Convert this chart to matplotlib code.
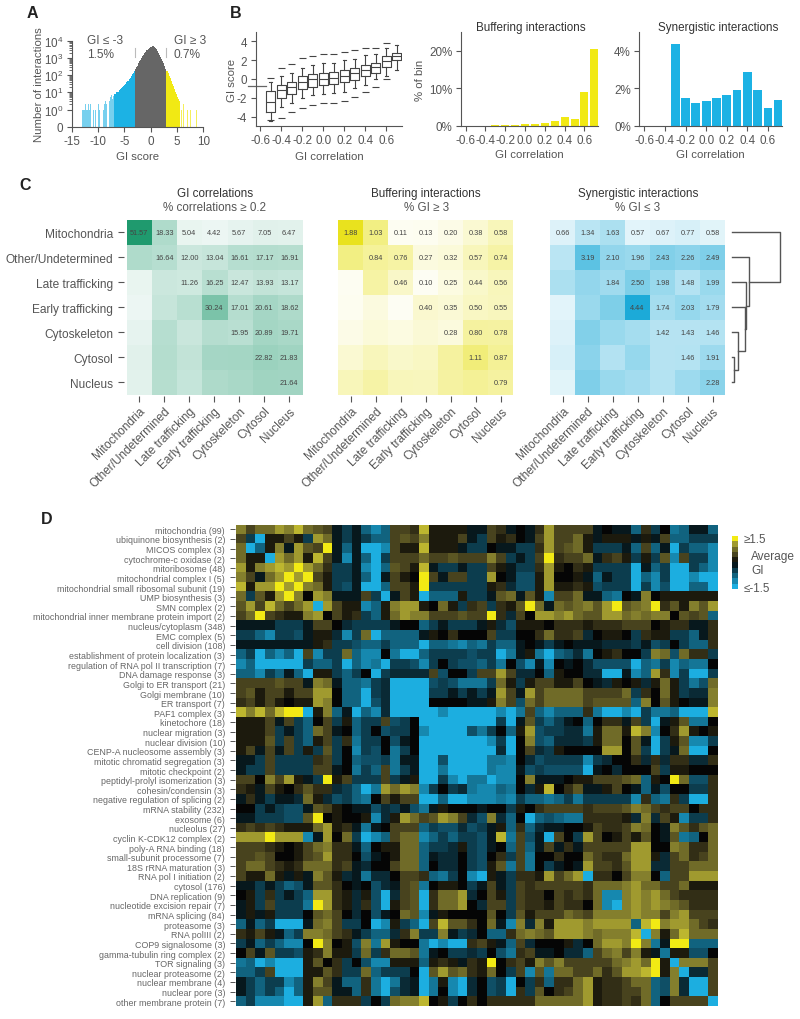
import numpy as np
import matplotlib
matplotlib.use('Agg')
import matplotlib.pyplot as plt
from matplotlib.colors import LinearSegmentedColormap

plt.rcParams['font.family'] = ['Liberation Sans', 'DejaVu Sans']
plt.rcParams['mathtext.default'] = 'regular'
plt.rcParams['axes.unicode_minus'] = False
plt.rcParams['text.color'] = '#555555'
plt.rcParams['axes.labelcolor'] = '#555555'
plt.rcParams['axes.edgecolor'] = '#555555'
plt.rcParams['xtick.color'] = '#555555'
plt.rcParams['ytick.color'] = '#555555'
plt.rcParams['axes.linewidth'] = 0.8

BLUE = '#1cb2e4'
YELLOW = '#f1e914'
GRAY = '#666666'

# panel A, histogram of GI scores
left_sparse_x = [-13.0, -12.7, -12.5, -12.3, -12.2, -12.0, -11.8, -11.6, -11.4, -10.9, -10.5, -9.9, -9.7,
                 -9.0, -8.8, -8.5, -8.3, -8.1, -7.9, -7.7, -7.5, -7.3, -7.1]
left_sparse_n = [1, 1, 1, 2, 1, 1, 2, 1, 2, 1, 1, 2, 1, 1, 2, 3, 2, 4, 3, 5, 7, 4, 6]
left_x = [-7.0, -6.8, -6.6, -6.4, -6.2, -6.0, -5.8, -5.6, -5.4, -5.2, -5.0, -4.8, -4.6, -4.4, -4.2, -4.0,
          -3.8, -3.6, -3.4, -3.2]
left_n = [8, 8, 10, 10, 11, 14, 15, 18, 20, 22, 25, 30, 38, 45, 60, 72, 90, 110, 140, 180]
mid_x = [-3.0, -2.8, -2.6, -2.4, -2.2, -2.0, -1.8, -1.6, -1.4, -1.2, -1.0, -0.8, -0.6, -0.4, -0.2, 0.0,
         0.2, 0.4, 0.6, 0.8, 1.0, 1.2, 1.4, 1.6, 1.8, 2.0, 2.2, 2.4, 2.6, 2.8]
mid_n = [215, 280, 360, 480, 620, 800, 1000, 1250, 1550, 1900, 2300, 2750, 3200, 3700, 4200, 4600,
         4900, 4900, 4500, 3900, 3200, 2600, 2050, 1550, 1200, 900, 650, 480, 340, 240]
right_x = [3.0, 3.2, 3.4, 3.6, 3.8, 4.0, 4.2, 4.4, 4.6, 4.8, 5.0, 5.2, 5.4]
right_n = [180, 130, 90, 65, 45, 32, 22, 15, 11, 8, 5, 4, 3]
right_sparse_x = [5.9, 6.3, 6.96, 7.5, 8.7]
right_sparse_n = [1, 2, 1, 1, 1]

# panel B, box plot by GI correlation bin
corr_bins = [-0.5, -0.4, -0.3, -0.2, -0.1, 0.0, 0.1, 0.2, 0.3, 0.4, 0.5, 0.6, 0.7]
box_med = [-2.4, -1.2, -0.9, -0.35, 0.0, 0.05, 0.15, 0.35, 0.65, 0.95, 1.25, 1.9, 2.4]
box_q1 = [-3.5, -2.0, -1.6, -1.05, -0.8, -0.65, -0.55, -0.35, -0.1, 0.35, 0.65, 1.3, 2.0]
box_q3 = [-1.3, -0.65, -0.3, 0.3, 0.55, 0.65, 0.75, 0.95, 1.2, 1.5, 1.75, 2.4, 2.75]
whisk_lo = [-4.5, -2.95, -2.5, -2.0, -1.7, -1.6, -1.5, -1.35, -1.0, -0.6, 0.0, 0.3, 1.0]
whisk_hi = [-0.35, 0.3, 0.65, 1.15, 1.5, 1.65, 1.75, 2.0, 2.1, 2.55, 2.65, 3.3, 3.6]
dash_lo = [-4.4, -4.1, -3.5, -3.05, -2.75, -2.6, -2.5, -2.3, -1.9, -1.4, -0.9, 0.05]
dash_hi = [0.1, 1.15, 1.55, 2.25, 2.5, 2.65, 2.7, 2.85, 3.1, 3.3, 3.3, 3.8]
stray_dash = -0.7

bar_bins = [-0.3, -0.2, -0.1, 0.0, 0.1, 0.2, 0.3, 0.4, 0.5, 0.6, 0.7]
buffering_pct = [0.1, 0.15, 0.25, 0.4, 0.35, 0.8, 1.3, 2.2, 1.8, 9.1, 20.4]
synergistic_pct = [4.35, 1.5, 1.22, 1.31, 1.46, 1.67, 1.9, 2.87, 1.91, 0.93, 1.36]
corr_ticks = [-0.6, -0.4, -0.2, 0.0, 0.2, 0.4, 0.6]
corr_labels = ['-0.6', '-0.4', '-0.2', '0.0', '0.2', '0.4', '0.6']

# panel C, upper triangles
compartments = ['Mitochondria', 'Other/Undetermined', 'Late trafficking', 'Early trafficking',
                'Cytoskeleton', 'Cytosol', 'Nucleus']
corr_upper = [[51.57, 18.33, 5.04, 4.42, 5.67, 7.05, 6.47],
              [16.64, 12.00, 13.04, 16.61, 17.17, 16.91],
              [11.26, 16.25, 12.47, 13.93, 13.17],
              [30.24, 17.01, 20.61, 18.62],
              [15.95, 20.89, 19.71],
              [22.82, 21.83],
              [21.64]]
buffer_upper = [[1.88, 1.03, 0.11, 0.13, 0.20, 0.38, 0.58],
                [0.84, 0.76, 0.27, 0.32, 0.57, 0.74],
                [0.46, 0.10, 0.25, 0.44, 0.56],
                [0.40, 0.35, 0.50, 0.55],
                [0.28, 0.80, 0.78],
                [1.11, 0.87],
                [0.79]]
synergy_upper = [[0.66, 1.34, 1.63, 0.57, 0.67, 0.77, 0.58],
                 [3.19, 2.10, 1.96, 2.43, 2.26, 2.49],
                 [1.84, 2.50, 1.98, 1.48, 1.99],
                 [4.44, 1.74, 2.03, 1.79],
                 [1.42, 1.43, 1.46],
                 [1.46, 1.91],
                 [2.28]]
# leaves joined one after the other, heights of each merge
dendro_order = [6, 4, 3, 2, 1, 0]
dendro_heights = [2.3, 6.7, 13.3, 14.0, 17.3, 48.3]

# panel D, average GI between gene groups
groups = ['mitochondria (99)', 'ubiquinone biosynthesis (2)', 'MICOS complex (3)', 'cytochrome-c oxidase (2)',
          'mitoribosome (48)', 'mitochondrial complex I (5)', 'mitochondrial small ribosomal subunit (19)',
          'UMP biosynthesis (3)', 'SMN complex (2)', 'mitochondrial inner membrane protein import (2)',
          'nucleus/cytoplasm (348)', 'EMC complex (5)', 'cell division (108)',
          'establishment of protein localization (3)', 'regulation of RNA pol II transcription (7)',
          'DNA damage response (3)', 'Golgi to ER transport (21)', 'Golgi membrane (10)', 'ER transport (7)',
          'PAF1 complex (3)', 'kinetochore (18)', 'nuclear migration (3)', 'nuclear division (10)',
          'CENP-A nucleosome assembly (3)', 'mitotic chromatid segregation (3)', 'mitotic checkpoint (2)',
          'peptidyl-prolyl isomerization (3)', 'cohesin/condensin (3)', 'negative regulation of splicing (2)',
          'mRNA stability (232)', 'exosome (6)', 'nucleolus (27)', 'cyclin K-CDK12 complex (2)',
          'poly-A RNA binding (18)', 'small-subunit processome (7)', '18S rRNA maturation (3)',
          'RNA pol I initiation (2)', 'cytosol (176)', 'DNA replication (9)', 'nucleotide excision repair (7)',
          'mRNA splicing (84)', 'proteasome (3)', 'RNA polIII (2)', 'COP9 signalosome (3)',
          'gamma-tubulin ring complex (2)', 'TOR signaling (3)', 'nuclear proteasome (2)',
          'nuclear membrane (4)', 'nuclear pore (3)', 'other membrane protein (7)']

# colour steps: 0 is GI <= -1.5, 9 is GI >= 1.5
# each row starts on the diagonal, the matrix is symmetric
gi_steps = [
    [7.5,6,7,7,8,7.5,8.5,7,6.5,6,4,3,4,2,1,2,6,6,5.5,8.5,5,5,5,5,4,4,6,5.5,4,4.5,4,5.5,8,6,6,6,6,4,4.5,4,4,2,5.5,3,4.5,1.5,2,4,4,2],
    [3,0,5,5,6,5,3,8,7,4,3,4,3,2,2,6,6.5,6,7.5,5,5,5,6,4,3,6,5,5.5,4.5,4,6,8,6,6,7,5,4,5,5,5,4,5,4,6,2,2,3,3,3],
    [2,5,7.5,4,8,6.5,6,9,4,2,4,0,0,1,6,5,5,8.5,5,5,5,4,3,3,4.5,4,4,3,3,5.5,8,6,6.5,7,5,3,3,3,4,2,6,2,4,0,3,2,2,1],
    [0,8,7,8,5,8.5,6,4,1,4,2,0,3,6,6,6,7,6,6,6.5,6,6,6,7.5,6,3,4,3,6,9,5.5,6,6,7,4,5.5,6,5,3,5,3,6.5,1,6,3,3,1],
    [8.5,8,9,8,7,5.5,3,3,4,1,0,2,6.5,6,5,8.5,4,3,3,4,3,3,6,5,4,3,3,5.5,8,5,4.5,5.5,5,3,3,3,3,0,4,2,3,0,0,3,2,1],
    [9,8,9,6,5,3,3,4,2,0,4,6,5,4.5,9,6,4,6,6,3,3,8,4.5,4,2.5,2.5,5,8,4.5,4.5,5,4,2,4,3,3,0,2,1,3,0,0,1,0,0],
    [9,7.5,7,5,3,2.5,4,0,0,2,6,6,5,9,3,3,3,3,3,3,5,5.5,3.5,2.5,2.5,5,8,5,5,5.5,5,2.5,3,3,3,0,3,1,2.5,0,0,2,2,0],
    [4.5,8,7.5,4,4,4,6,3,0,4,6,5,0,2,2,2,5,3,3,4,6.5,7,4,6.5,5,1,6,6,7,4,4,2,1.5,4.5,4,7.5,4.5,5,5,5,5,5,5],
    [0,8,6,5,5,1,2,5,7.5,8,8,5,4.5,7,5,3,5.5,6,3,5.5,5,6.5,9,7,4,7,6.5,7,7.5,6.5,8,9,6.5,7,7.5,9,5.5,6.5,5,7.5,6.5,8],
    [4.5,6,5,5.5,3,2,5,7,8,7.5,7.5,6,6,6,6.5,6,6,9,5.5,3.5,6,4.5,8,8,7.5,8,7,6.5,6.5,8,8,7,7.5,7,7.5,7.5,4.5,6.5,6,6.5,2],
    [4.5,3.5,3,3,3,3,4,4.5,4.5,2,3,4,3,3,3,4,5,3.5,2.5,5,5,5,4.5,5.5,5.5,5.5,5,5.5,5.5,5.5,6,6,6,4.5,5,5.5,5.5,4,4,5.5],
    [1,3,7,0,2,2,2,2,4,5,4.5,5.5,4.5,4.5,4.5,6,3,3,4.5,4.5,5.5,7,5.5,5.5,6,3.5,4.5,5,5,4.5,3,5.5,5,5,3,3,2,4,5.5],
    [2.5,2,2,3,2,2,2,0,2,2,1.5,1,2,1.5,3,2,2,4,4.5,4,3,4,4.5,4,4,4,3.5,3.5,3.5,3,4,2.5,3,4.5,3,2,2,5.5],
    [1,1,4.5,1.5,0,0,2,3,3,3,3,2.5,3,3,0,1.5,4,5,1.5,0,2,2.5,3.5,1.5,4.5,5,5.5,4.5,4.5,3,7.5,7,2.5,7,5.5,5.5,3],
    [1.5,0,3,3,2.5,1,3,4.5,3,2.5,2.5,2,3,1.5,4.5,2.5,1,4,1,4.5,4,4.5,3.5,2.5,2.5,2.5,2.5,0,2,1.5,3,1,2,1.5,1.5,4.5],
    [3,3.5,3.5,3.5,3.5,6,2.5,4.5,4.5,3,6,6,8,6,3.5,3.5,4.5,2,5,4.5,4.5,3.5,3.5,0,0,4,1,2,8,5.5,1,3,0,0,3],
    [0,0,0,0,2.5,3,2.5,1.5,1.5,1.5,3,7,5,3,5,6,6,5,5,6,4.5,4,3.5,5,4.5,5,3.5,5,7,5,3,1.5,2.5,7],
    [0,0,0,3,3,4,3,4,3,4,8,6,4,8,6,7,7,7,7,6,6,6,6,7,3,5.5,4.5,7,5,3,3.5,3.5,7.5],
    [0,0,4.5,4.5,4.5,4.5,4,4,5,7.5,6,2.5,7,6,7,7,7,7,6,6.5,6.5,6.5,6.5,2,7.5,4.5,6.5,5,4.5,4,4,7.5],
    [0,0,1,0,0,0,0,0,1,0,1.5,6,2,1,2,2,2,5.5,1.5,0,0,1,0,3,1.5,1.5,2,0,0,0,8.5],
    [0,0,0,0,0,0,0,3,0,4,6.5,3,2,3,4,4.5,2,4.5,5.5,5.5,4,6,3,0,4,5,6.5,1.5,1.5,4.5],
    [0,0,0,2.5,1.5,3,4.5,2,5,8,2.5,3,3,3.5,3.5,1.5,5,7,7,5,8.5,7.5,1,4.5,5.5,8,5,4.5,5],
    [0,0,0,0,1,3,0,4.5,7.5,2.5,2,3.5,3.5,3.5,3,5,7,7,4.5,6.5,4,0,3,5,6.5,1,1,3],
    [0,0,0,0,3.5,0,4.5,6,3.5,3,5,4.5,4.5,4.5,4.5,8,8,4.5,6.5,3,0,3,4,7,0,0,4.5],
    [0,0,1.5,1.5,1,4.5,3.5,2.5,3,3,3,3,1,3,3.5,4.5,4.5,5.5,3.5,5.5,3.5,5.5,5.5,3.5,3.5,5.5],
    [0,1.5,1,1,4,2.5,3,2.5,2.5,2.5,2.5,0,4,4.5,3.5,4.5,4.5,4.5,6,3,5,5,4.5,4.5,4.5],
    [0,1,1,4.5,7.5,4,4,4,4.5,5,5,6,6,6,6.5,7,2,5,4.5,9,7,2.5,2.5,5.5],
    [2,1.5,4.5,3.5,5,8.5,4.5,5.5,6.5,4,4,5,6,4.5,4,2,4,2.5,4.5,4.5,3,3,5.5],
    [1,3,2,2,1.5,2,3,1.5,3,3,3,3,3,1,5.5,2,1.5,5.5,3,0,0,5.5],
    [5,4.5,5.5,6,6,6,6,5.5,6,6,6,6.5,7.5,7,6,5.5,6,6,4.5,5.5,5.5],
    [0,2,2.5,2,1.5,1.5,5.5,5.5,5.5,5.5,5,3.5,7.5,3.5,6,5,1,3,3,5.5],
    [3.5,4,4,4.5,4.5,5,6,5.5,5.5,6,7.5,7,4.5,4,7.5,6.5,5.5,6.5,7],
    [0,6,4.5,3,8,6,4.5,5,6,5,6.5,4.5,4,6.5,1.5,2,4.5,7],
    [4,5.5,4,6,6,6,6,6,8,8,4.5,4.5,7.5,7,5.5,5.5,7],
    [4.5,4.5,7,6,5.5,5.5,7,8,8,5,3.5,6,7,5.5,6,7],
    [4,8,6,6,5.5,6.5,8,8,3.5,3.5,6,6,7,7,7],
    [0,5.5,5.5,4.5,6,7.5,7.5,4.5,2,6,6,8,8,8],
    [7,7,7,7.5,8,7,7,6,6,7,5,5,5],
    [1,1,7.5,8,7.5,8,7,6,5.5,5.5,5.5,5.5],
    [0,7.5,8,7.5,8,7.5,7,6.5,5.5,5.5,5.5],
    [7.5,8,7.5,7.5,6,7.5,8,6,6,6],
    [2,8.5,9,7.5,8,8,7,6,5.5],
    [0,7.5,5,7,8.5,7,7,7],
    [1.5,4,9,9,2,2,2],
    [1.5,5,5,2.5,2.5,4.5],
    [0,7.5,7.5,7.5,6],
    [0,3.5,3.5,6],
    [0,0,6],
    [0,6],
    [0],
]


def px_axes(left, top, right, bottom):
    return fig.add_axes([left / 800, 1 - bottom / 1020, (right - left) / 800, (bottom - top) / 1020])


def px_text(x, y, s, **kw):
    kw.setdefault('va', 'center')
    kw.setdefault('fontsize', 8.2)
    return fig.text(x / 800, 1 - y / 1020, s, **kw)


def mirror(rows):
    n = len(rows)
    m = np.zeros((n, n))
    for i, row in enumerate(rows):
        m[i, i:] = row
        m[i:, i] = row
    return m


def plain_axes(ax):
    ax.spines['top'].set_visible(False)
    ax.spines['right'].set_visible(False)
    ax.tick_params(labelsize=8.4, length=3.5, width=0.8, pad=2.5)


fig = plt.figure(figsize=(8, 10.2), dpi=100)

for x, y, s in [(27, 14, 'A'), (230, 14, 'B'), (19, 186, 'C'), (41, 520, 'D')]:
    px_text(x, y, s, fontsize=11.5, fontweight='bold', color='#222222')

# A
ax = px_axes(71.7, 41.7, 203.3, 127.7)
ax.bar(left_sparse_x, left_sparse_n, width=0.18, color=BLUE, alpha=0.6, linewidth=0)
ax.bar(left_x, left_n, width=0.2, color=BLUE, linewidth=0, align='edge')
ax.bar(mid_x, mid_n, width=0.2, color=GRAY, linewidth=0, align='edge')
ax.bar(right_x, right_n, width=0.2, color=YELLOW, linewidth=0, align='edge')
ax.bar(right_sparse_x, right_sparse_n, width=0.18, color=YELLOW, alpha=0.7, linewidth=0)
for t in [-3, 3]:
    ax.plot([t, t], [1150, 3800], color='#bbbbbb', lw=0.8)
ax.set_yscale('symlog', linthresh=1, linscale=0.9)
ax.set_xlim(-15, 10)
ax.set_ylim(0, 1e4)
ax.set_yticks([0, 1, 10, 100, 1000, 10000])
ax.set_yticklabels(['0', '$10^{0}$', '$10^{1}$', '$10^{2}$', '$10^{3}$', '$10^{4}$'])
ax.set_yticks([m * 10 ** k for k in range(0, 4) for m in range(2, 10)], minor=True)
ax.tick_params(axis='y', which='minor', length=2, width=0.6, labelleft=False)
ax.set_xticks([-15, -10, -5, 0, 5, 10])
ax.set_xticklabels(['-15', '-10', '-5', '0', '5', '10'])
plain_axes(ax)
ax.set_xlabel('GI score', fontsize=8.2, labelpad=3)
ax.set_ylabel('Number of interactions', fontsize=8.2, labelpad=0)
px_text(87, 41, 'GI ≤ -3', fontsize=8.6)
px_text(87, 55, '1.5%', fontsize=8.6)
px_text(174, 41, 'GI ≥ 3', fontsize=8.6)
px_text(174, 55, '0.7%', fontsize=8.6)

# B, box plot
ax = px_axes(255.7, 33, 402, 127)
stats = [dict(med=box_med[i], q1=box_q1[i], q3=box_q3[i], whislo=whisk_lo[i], whishi=whisk_hi[i], fliers=[])
         for i in range(len(corr_bins))]
line = dict(color='#444444', linewidth=0.8)
ax.bxp(stats, positions=corr_bins, widths=0.083, capwidths=0.03, showfliers=False, manage_ticks=False,
       boxprops=line, medianprops=line, whiskerprops=line, capprops=line)
ax.hlines(dash_lo, np.array(corr_bins[:12]) - 0.035, np.array(corr_bins[:12]) + 0.035, color='#444444', lw=0.8)
ax.hlines(dash_hi, np.array(corr_bins[:12]) - 0.035, np.array(corr_bins[:12]) + 0.035, color='#444444', lw=0.8)
ax.plot([-0.72, -0.55], [stray_dash, stray_dash], color=GRAY, lw=0.9, clip_on=False)
ax.set_xlim(-0.644, 0.75)
ax.set_ylim(-5, 5)
ax.set_yticks([-4, -2, 0, 2, 4])
ax.set_yticklabels(['-4', '-2', '0', '2', '4'])
ax.set_xticks(corr_ticks)
ax.set_xticklabels(corr_labels)
plain_axes(ax)
ax.set_xlabel('GI correlation', fontsize=8.2, labelpad=3)
ax.set_ylabel('GI score', fontsize=8.2, labelpad=0)

# B, buffering
ax = px_axes(461, 33.3, 598.3, 126.7)
ax.bar(bar_bins, buffering_pct, width=0.08, color=YELLOW, linewidth=0)
ax.set_xlim(-0.647, 0.74)
ax.set_ylim(0, 24.9)
ax.set_yticks([0, 10, 20])
ax.set_yticklabels(['0%', '10%', '20%'])
ax.set_xticks(corr_ticks)
ax.set_xticklabels(corr_labels)
plain_axes(ax)
ax.set_xlabel('GI correlation', fontsize=8.2, labelpad=2)
ax.set_ylabel('% of bin', fontsize=8.2, labelpad=3)
px_text(530.7, 28, 'Buffering interactions', fontsize=8.4, ha='center', color='#333333')

# B, synergistic
ax = px_axes(639.3, 33.3, 781.7, 126.7)
ax.bar(bar_bins, synergistic_pct, width=0.085, color=BLUE, linewidth=0)
ax.set_xlim(-0.649, 0.733)
ax.set_ylim(0, 5)
ax.set_yticks([0, 2, 4])
ax.set_yticklabels(['0%', '2%', '4%'])
ax.set_xticks(corr_ticks)
ax.set_xticklabels(corr_labels)
plain_axes(ax)
ax.set_xlabel('GI correlation', fontsize=8.2, labelpad=2)
px_text(718, 28, 'Synergistic interactions', fontsize=8.4, ha='center', color='#333333')

# C
panels = [(126.7, corr_upper, '#1f9a6e', 'GI correlations', '% correlations ≥ 0.2'),
          (338.3, buffer_upper, '#e9e21e', 'Buffering interactions', '% GI ≥ 3'),
          (550.0, synergy_upper, '#1caad8', 'Synergistic interactions', '% GI ≤ 3')]
for k, (x0, upper, top_colour, title, subtitle) in enumerate(panels):
    ax = px_axes(x0, 221, x0 + 175, 395.7)
    m = mirror(upper)
    cmap = LinearSegmentedColormap.from_list('c%d' % k, ['#ffffff', top_colour])
    ax.imshow(m, cmap=cmap, vmin=0, vmax=m.max(), aspect='auto', interpolation='nearest')
    for i, row in enumerate(upper):
        for j, v in enumerate(row):
            ax.text(i + j, i, '%.2f' % v, ha='center', va='center', fontsize=5.3, color='#444444')
    for s in ax.spines.values():
        s.set_visible(False)
    ax.spines['bottom'].set_position(('outward', 1))
    ax.spines['left'].set_position(('outward', 2))
    ax.set_xticks(range(7))
    ax.set_xticklabels(compartments, rotation=45, ha='right', va='top', rotation_mode='anchor', fontsize=8.6)
    ax.tick_params(axis='x', length=4.3, width=0.8, pad=2)
    if k == 0:
        ax.set_yticks(range(7))
        ax.set_yticklabels(compartments, fontsize=8.6)
        ax.tick_params(axis='y', length=4.3, width=0.8, pad=3.6)
    else:
        ax.set_yticks([])
    px_text(x0 + 88, 194, title, fontsize=8.4, ha='center', color='#333333')
    px_text(x0 + 88, 208, subtitle, fontsize=8.4, ha='center')

# dendrogram shares its rows with the heatmaps
ax = px_axes(731.7, 221, 782, 395.7)
ax.set_xlim(0, 50.3)
ax.set_ylim(6.5, -0.5)
ax.axis('off')
node_y, node_h = 5, 0
for leaf, h in zip(dendro_order, dendro_heights):
    ax.plot([0, h, h, node_h], [leaf, leaf, node_y, node_y], color='#555555', lw=1, clip_on=False)
    node_y, node_h = (leaf + node_y) / 2, h

# D
ax = px_axes(236, 525.5, 718, 1007)
gi_values = (mirror(gi_steps) - 4.5) / 3
gi_cmap = LinearSegmentedColormap.from_list('gi', [(0.0, '#1caee0'), (0.5, '#050505'), (0.66, '#46411e'),
                                                   (0.83, '#827d2d'), (0.94, '#b9b232'), (1.0, '#f2ea14')])
ax.imshow(gi_values, cmap=gi_cmap, vmin=-1.5, vmax=1.5, aspect='auto', interpolation='nearest')
for s in ax.spines.values():
    s.set_visible(False)
ax.spines['left'].set_position(('outward', 0.7))
ax.set_xticks([])
ax.set_yticks(range(len(groups)))
ax.set_yticklabels(groups, fontsize=6.4, color='#666666')
ax.tick_params(axis='y', length=3.6, width=0.7, pad=3.6)

# legend of panel D
ax = px_axes(732, 537, 738, 590)
ax.imshow(np.linspace(1.5, -1.5, 10).reshape(-1, 1), cmap=gi_cmap, vmin=-1.5, vmax=1.5, aspect='auto',
          interpolation='nearest')
ax.axis('off')
px_text(744, 540, '≥1.5', fontsize=8.4)
px_text(751, 557, 'Average', fontsize=8.6)
px_text(751, 571, 'GI', fontsize=8.6)
px_text(744, 589, '≤-1.5', fontsize=8.4)

fig.savefig('out.png', dpi=100)
